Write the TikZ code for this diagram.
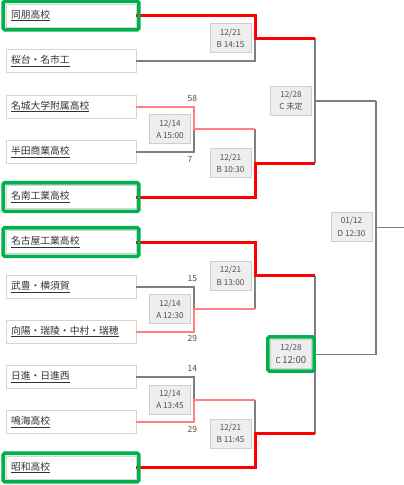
\documentclass[tikz,border=0pt]{standalone}
\usepackage{fontspec}
\setmainfont{Noto Sans CJK JP}
\usetikzlibrary{fit}
\definecolor{redw}{HTML}{FF0000}
\definecolor{pinkw}{HTML}{FF8080}
\definecolor{grayl}{HTML}{7F7F7F}
\definecolor{boxb}{HTML}{D4D4D4}
\definecolor{matchf}{HTML}{EEEEEE}
\definecolor{matchb}{HTML}{CFCFCF}
\definecolor{hlgreen}{HTML}{00B04C}
\definecolor{txt}{HTML}{333333}
\definecolor{mtxt}{HTML}{505050}
\begin{document}
\begin{tikzpicture}[x=1pt,y=-1pt,
  team/.style={draw=boxb, line width=0.8pt, fill=white, text width=120pt, inner xsep=5pt, inner ysep=0pt,
    minimum height=23pt, align=left, font=\fontsize{9.8}{11}\selectfont, text=txt},
  match/.style={draw=matchb, line width=0.8pt, fill=matchf, minimum width=41pt, minimum height=29pt,
    inner sep=0pt, align=center, font=\fontsize{8.2}{12.5}\selectfont, text=mtxt},
  hl/.style={draw=hlgreen, line width=3.6pt, rounded corners=1.5pt, inner sep=2.4pt},
  score/.style={anchor=west, inner sep=0pt, font=\fontsize{8.5}{9}\selectfont, text=mtxt},
  winl/.style={draw=redw, line width=3pt},
  pinkl/.style={draw=pinkw, line width=2pt},
  losel/.style={draw=grayl, line width=1.6pt},
]
\useasboundingbox (0,0) rectangle (404,485);

% junction coordinates
\coordinate (jA1) at (194,129.25);
\coordinate (jA2) at (194,309.25);
\coordinate (jA3) at (194,399.5);
\coordinate (jB1) at (255,38.25);
\coordinate (jB2) at (255,163.1);
\coordinate (jB3) at (255,275.6);
\coordinate (jB4) at (255,433.5);
\coordinate (jC1) at (315,100.7);
\coordinate (jC2) at (315,354.5);
\coordinate (jD) at (376,227.6);
\coordinate (exit) at (404,227.6);

% teams
\node[team] (t1) at (71,15.5) {\underline{同朋高校}};
\node[team] (t2) at (71,61) {\underline{桜台・名市工}};
\node[team] (t3) at (71,106.5) {\underline{名城大学附属高校}};
\node[team] (t4) at (71,152) {\underline{半田商業高校}};
\node[team] (t5) at (71,197) {\underline{名南工業高校}};
\node[team] (t6) at (71,242) {\underline{名古屋工業高校}};
\node[team] (t7) at (71,287) {\underline{武豊・横須賀}};
\node[team] (t8) at (71,331.5) {\underline{向陽・瑞陵・中村・瑞穂}};
\node[team] (t9) at (71,377) {\underline{日進・日進西}};
\node[team] (t10) at (71,422) {\underline{鳴海高校}};
\node[team] (t11) at (71,467.5) {\underline{昭和高校}};

% losing / undecided lines
\draw[losel] (t2.east) -| (jB1);
\draw[losel] (t4.east) -| (jA1);
\draw[losel] (jA1 -| jB2) -- (jB2);
\draw[losel] (jB1 -| jC1) -- (jB2 -| jC1);
\draw[losel] (jC1) -- (jC1 -| jD);
\draw[losel] (t7.east) -| (jA2);
\draw[losel] (jA2 -| jB3) -- (jB3);
\draw[losel] (t9.east) -| (jA3);
\draw[losel] (jA3 -| jB4) -- (jB4);
\draw[losel] (jB3 -| jC2) -- (jB4 -| jC2);
\draw[losel] (jC2) -- (jC2 -| jD);
\draw[losel] (jC1 -| jD) -- (jC2 -| jD);
\draw[losel] (jD) -- (exit);

% first-round winners
\draw[pinkl] (t3.east) -| (jA1) -- (jA1 -| jB2);
\draw[pinkl] (t8.east) -| (jA2) -- (jA2 -| jB3);
\draw[pinkl] (t10.east) -| (jA3) -- (jA3 -| jB4);

% winners
\draw[winl] (t1.east) -| (jB1) -- (jB1 -| jC1);
\draw[winl] (t5.east) -| (jB2) -- (jB2 -| jC1);
\draw[winl] (t6.east) -| (jB3) -- (jB3 -| jC2);
\draw[winl] (t11.east) -| (jB4) -- (jB4 -| jC2);

% highlights
\node[hl, fit=(t1)] (h1) {};
\node[hl, fit=(t5)] (h5) {};
\node[hl, fit=(t6)] (h6) {};
\node[hl, fit=(t11)] (h11) {};

% match boxes
\node[match] (mA1) at (170,129.25) {12/14\\A 15:00};
\node[match] (mA2) at (170,309.25) {12/14\\A 12:30};
\node[match] (mA3) at (170,399.5) {12/14\\A 13:45};
\node[match] (mB1) at (230.5,38.25) {12/21\\B 14:15};
\node[match] (mB2) at (230.5,163.1) {12/21\\B 10:30};
\node[match] (mB3) at (230.5,275.6) {12/21\\B 13:00};
\node[match] (mB4) at (230.5,433.5) {12/21\\B 11:45};
\node[match] (mC1) at (291,100.7) {12/28\\C 未定};
\node[match] (mC2) at (291,354) {12/28\\C\,{\fontsize{9.6}{12.5}\selectfont 12:00}};
\node[match] (mD) at (351.5,226.7) {01/12\\D 12:30};
\node[hl, fit=(mC2), inner sep=2.2pt] (hC2) {};

% scores
\node[score] (s58) at (187.5,98) {58};
\node[score] (s7) at (187.5,159) {7};
\node[score] (s15) at (187.5,278.5) {15};
\node[score] (s29a) at (187.5,338.5) {29};
\node[score] (s14) at (187.5,368.5) {14};
\node[score] (s29b) at (187.5,429) {29};
\end{tikzpicture}
\end{document}
